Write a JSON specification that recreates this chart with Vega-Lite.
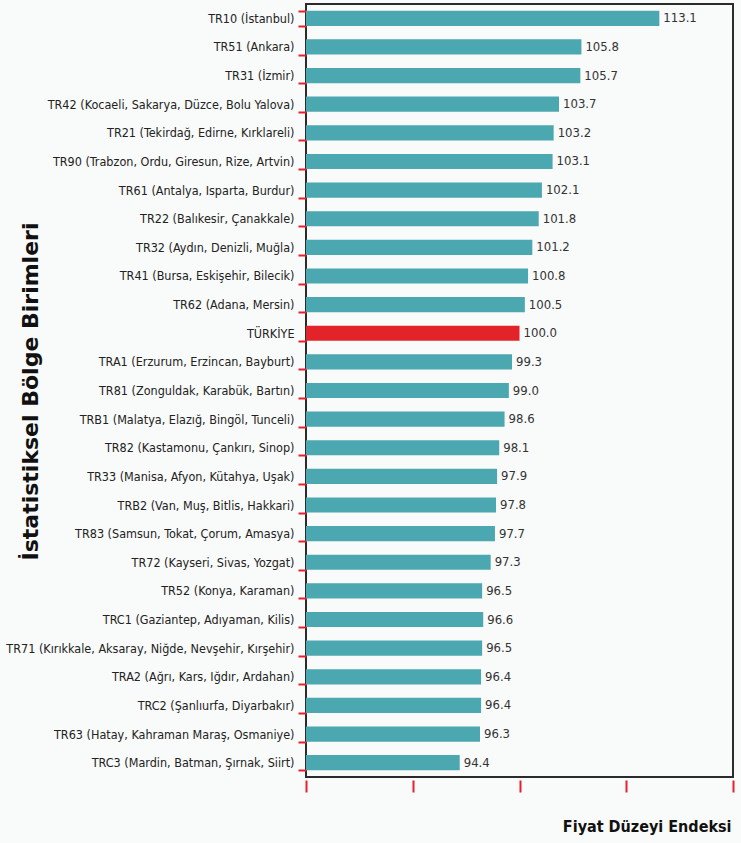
{
  "$schema": "https://vega.github.io/schema/vega-lite/v6.json",
  "autosize": {"type": "none"},
  "padding": {"left": 306, "top": 4, "right": 8, "bottom": 66},
  "width": 427,
  "height": 773,
  "background": "#f9fafa",
  "config": {
    "view": {"stroke": "#2b2b2b", "strokeWidth": 2, "fill": "#f9fafa"},
    "font": "'DejaVu Sans Condensed', 'Liberation Sans Narrow', sans-serif"
  },
  "data": {
    "values": [
      {"bolge": "TR10 (İstanbul)", "endeks": 113.1, "grup": "Bölge"},
      {"bolge": "TR51 (Ankara)", "endeks": 105.8, "grup": "Bölge"},
      {"bolge": "TR31 (İzmir)", "endeks": 105.7, "grup": "Bölge"},
      {"bolge": "TR42 (Kocaeli, Sakarya, Düzce, Bolu Yalova)", "endeks": 103.7, "grup": "Bölge"},
      {"bolge": "TR21 (Tekirdağ, Edirne, Kırklareli)", "endeks": 103.2, "grup": "Bölge"},
      {"bolge": "TR90 (Trabzon, Ordu, Giresun, Rize, Artvin)", "endeks": 103.1, "grup": "Bölge"},
      {"bolge": "TR61 (Antalya, Isparta, Burdur)", "endeks": 102.1, "grup": "Bölge"},
      {"bolge": "TR22 (Balıkesir, Çanakkale)", "endeks": 101.8, "grup": "Bölge"},
      {"bolge": "TR32 (Aydın, Denizli, Muğla)", "endeks": 101.2, "grup": "Bölge"},
      {"bolge": "TR41 (Bursa, Eskişehir, Bilecik)", "endeks": 100.8, "grup": "Bölge"},
      {"bolge": "TR62 (Adana, Mersin)", "endeks": 100.5, "grup": "Bölge"},
      {"bolge": "TÜRKİYE", "endeks": 100.0, "grup": "Türkiye"},
      {"bolge": "TRA1 (Erzurum, Erzincan, Bayburt)", "endeks": 99.3, "grup": "Bölge"},
      {"bolge": "TR81 (Zonguldak, Karabük, Bartın)", "endeks": 99.0, "grup": "Bölge"},
      {"bolge": "TRB1 (Malatya, Elazığ, Bingöl, Tunceli)", "endeks": 98.6, "grup": "Bölge"},
      {"bolge": "TR82 (Kastamonu, Çankırı, Sinop)", "endeks": 98.1, "grup": "Bölge"},
      {"bolge": "TR33 (Manisa, Afyon, Kütahya, Uşak)", "endeks": 97.9, "grup": "Bölge"},
      {"bolge": "TRB2 (Van, Muş, Bitlis, Hakkari)", "endeks": 97.8, "grup": "Bölge"},
      {"bolge": "TR83 (Samsun, Tokat, Çorum, Amasya)", "endeks": 97.7, "grup": "Bölge"},
      {"bolge": "TR72 (Kayseri, Sivas, Yozgat)", "endeks": 97.3, "grup": "Bölge"},
      {"bolge": "TR52 (Konya, Karaman)", "endeks": 96.5, "grup": "Bölge"},
      {"bolge": "TRC1 (Gaziantep, Adıyaman, Kilis)", "endeks": 96.6, "grup": "Bölge"},
      {"bolge": "TR71 (Kırıkkale, Aksaray, Niğde, Nevşehir, Kırşehir)", "endeks": 96.5, "grup": "Bölge"},
      {"bolge": "TRA2 (Ağrı, Kars, Iğdır, Ardahan)", "endeks": 96.4, "grup": "Bölge"},
      {"bolge": "TRC2 (Şanlıurfa, Diyarbakır)", "endeks": 96.4, "grup": "Bölge"},
      {"bolge": "TR63 (Hatay, Kahraman Maraş, Osmaniye)", "endeks": 96.3, "grup": "Bölge"},
      {"bolge": "TRC3 (Mardin, Batman, Şırnak, Siirt)", "endeks": 94.4, "grup": "Bölge"}
    ]
  },
  "encoding": {
    "y": {
      "field": "bolge",
      "type": "nominal",
      "sort": null,
      "scale": {"paddingInner": 0.47, "paddingOuter": 0.235},
      "axis": {
        "title": "İstatistiksel Bölge Birimleri",
        "titleFont": "DejaVu Sans",
        "titleFontWeight": "bold",
        "titleFontSize": 22,
        "titleColor": "#111111",
        "titleX": -276,
        "titleY": 387,
        "titleAngle": -90,
        "titleAlign": "center",
        "titleBaseline": "middle",
        "labelFont": "'DejaVu Sans Condensed', 'Liberation Sans Narrow', sans-serif",
        "labelFontSize": 12.5,
        "labelColor": "#222222",
        "labelPadding": 4,
        "labelLimit": 400,
        "tickBand": "extent",
        "tickColor": "#e8202a",
        "tickSize": 8,
        "tickWidth": 2,
        "domain": false
      }
    },
    "x": {
      "field": "endeks",
      "type": "quantitative",
      "scale": {"domain": [80, 120], "zero": false, "nice": false, "clamp": true},
      "axis": {
        "title": "Fiyat Düzeyi Endeksi",
        "titleFont": "'DejaVu Sans Condensed', 'Liberation Sans Narrow', sans-serif",
        "titleFontWeight": "bold",
        "titleFontSize": 16,
        "titleColor": "#111111",
        "titleAnchor": "end",
        "titleAlign": "right",
        "titleBaseline": "middle",
        "titleY": 46,
        "titleX": 425,
        "values": [80, 90, 100, 110, 120],
        "labels": false,
        "domain": false,
        "grid": false,
        "tickColor": "#e8202a",
        "tickSize": 12,
        "tickWidth": 2,
        "offset": 3
      }
    }
  },
  "layer": [
    {
      "mark": {"type": "bar"},
      "encoding": {
        "color": {
          "field": "grup",
          "type": "nominal",
          "scale": {"domain": ["Bölge", "Türkiye"], "range": ["#4ba7b0", "#e3232a"]},
          "legend": null
        }
      }
    },
    {
      "mark": {"type": "text", "align": "left", "baseline": "middle", "dx": 4, "fontSize": 13, "font": "'DejaVu Sans Condensed', 'Liberation Sans Narrow', sans-serif", "color": "#333333"},
      "encoding": {
        "text": {"field": "endeks", "type": "quantitative", "format": ".1f"}
      }
    }
  ]
}
